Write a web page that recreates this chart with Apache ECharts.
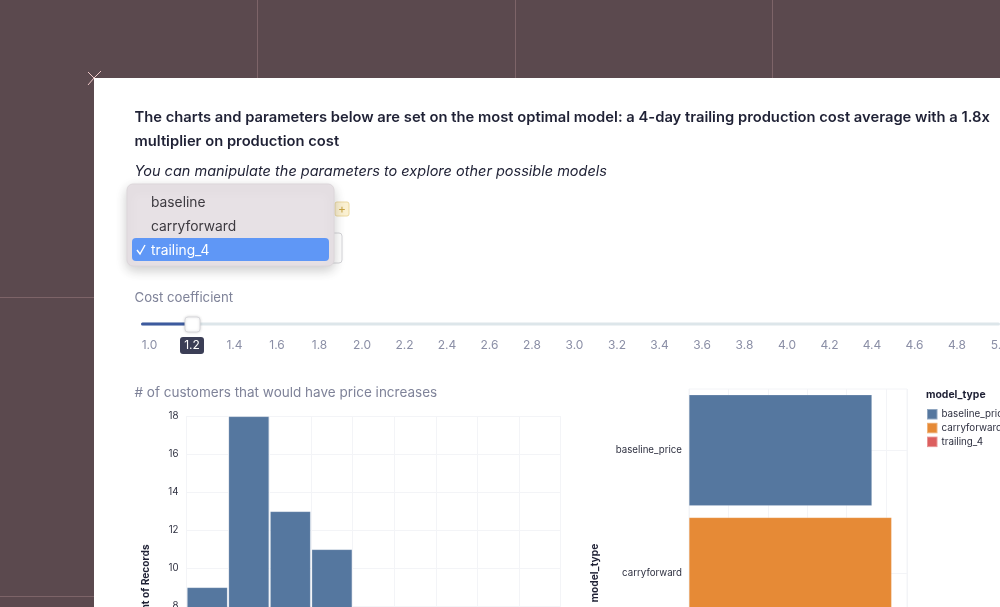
<!DOCTYPE html>
<html><head><meta charset="utf-8">
<style>html,body{margin:0;padding:0;background:#5b494e;overflow:hidden}#c{width:1000px;height:607px;filter:blur(0.55px)}</style>
<script src="https://cdn.jsdelivr.net/npm/echarts@6/dist/echarts.min.js"></script>
</head><body><div id="c"></div>
<script>
const headingLines = ['The charts and parameters below are set on the most optimal model: a 4-day trailing production cost average with a 1.8x','multiplier on production cost'];
const subheading = 'You can manipulate the parameters to explore other possible models';
const dropdownItems = ['baseline','carryforward','trailing_4'];
const sliderTitle = 'Cost coefficient';
const sliderTicks = ['1.0','1.2','1.4','1.6','1.8','2.0','2.2','2.4','2.6','2.8','3.0','3.2','3.4','3.6','3.8','4.0','4.2','4.4','4.6','4.8','5.0'];
const histTitle = '# of customers that would have price increases';
const histBins = ['b1','b2','b3','b4','b5','b6','b7','b8','b9'];
const histCounts = [9,18,13,11,null,null,null,null,null];
const modelTypes = ['baseline_price','carryforward','trailing_4'];
const baselineValues = [4.64,null,null];
const carryforwardValues = [null,5.14,null];
const trailingValues = [null,null,null];

const font = 'Inter, "Noto Sans", sans-serif';
const ink = '#1f2135', muted = '#7f8399', grid = '#f3f4f7';
const g = [];
const line = (x1,y1,x2,y2,stroke,w=1,z=-3)=>g.push({type:'line',z,silent:true,shape:{x1,y1,x2,y2},style:{stroke,lineWidth:w}});
const rect = (x,y,width,height,r,style,z=1)=>g.push({type:'rect',z,silent:true,shape:{x,y,width,height,r},style});
const text = (x,y,t,size,fill,opt={},z=5)=>g.push({type:'text',z,silent:true,x,y,style:Object.assign({text:t,font:`${opt.w||'normal'} ${size}px ${font}`,fill,textVerticalAlign:'middle',textAlign:opt.a||'left'},opt.font?{font:opt.font}:{})});

// background frame lines
[257,515,772].forEach(x=>line(x+.5,0,x+.5,78,'#7d6468',1,-4));
[297,596].forEach(y=>line(0,y+.5,94,y+.5,'#7d6468',1,-4));
rect(94,78,906,529,0,{fill:'#ffffff'},-3);
line(88,72,94,78,'#efc8c8',1,-2);line(94,78,101,71,'#efc8c8',1,-2);line(94,78,88,85,'#efc8c8',1,-2);

// heading
headingLines.forEach((t,i)=>text(134.5,118+i*24,t,14.75,ink,{w:'600'}));
text(134.5,172,subheading,14.5,ink,{font:`italic 14.5px ${font}`});

// select behind the dropdown, comment icon, dropdown
rect(300,233,42,30,3,{fill:'#fff',stroke:'#d4d4d8',lineWidth:1},3);
rect(335,202,14,14,2,{fill:'#fbf1d2',stroke:'#ecd9a0',lineWidth:1},3);
text(342,209,'+',12,'#c9a544',{a:'center'},4);
rect(127,184,207,82,6,{fill:'#e7e1e5',stroke:'#dcd6da',lineWidth:1,shadowColor:'rgba(0,0,0,.2)',shadowBlur:12,shadowOffsetY:4},4);
rect(132,238,197,23,4,{fill:'#5f97f6'},5);
dropdownItems.forEach((t,i)=>text(151,203+i*23.7,t,13.8,i===2?'#fff':'#3d3a40',{},6));
g.push({type:'polyline',z:6,silent:true,shape:{points:[[137,250],[140,254],[145,245]]},style:{stroke:'#fff',lineWidth:1.4,fill:null}});

// slider
text(134.5,298.5,sliderTitle,13.2,muted);
rect(141,322.5,859,3,1.5,{fill:'#dde6ea'},3);
rect(141,322.5,46,3,1.5,{fill:'#3d5a9e'},3);
rect(185,317,15,15,3,{fill:'#fff',stroke:'#d8d8dc',lineWidth:1,shadowColor:'rgba(0,0,0,.15)',shadowBlur:3},4);
rect(180,337,24,17,3,{fill:'#3b3e56'},3);
sliderTicks.forEach((t,i)=>text(149.5+i*42.5,345.5,t,12,i===1?'#fff':'#8b8fa6',{a:'center'}));

// titles
text(134.5,393,histTitle,13.5,muted);
text(926,394.5,'model_type',10.4,ink,{w:'bold'});

const axisText = {color:'#2e3040',fontSize:9.7,fontFamily:font};
const nameText = {color:ink,fontSize:10.2,fontWeight:'bold',fontFamily:font};
const split = {show:true,lineStyle:{color:grid,width:1}};
const barSeries = (name,data,color)=>({name,type:'bar',xAxisIndex:1,yAxisIndex:1,stack:'m',data,barCategoryGap:'9.5%',itemStyle:{color,borderColor:'rgba(255,255,255,.35)',borderWidth:.5}});

const option = {
  animation:false,
  backgroundColor:'transparent',
  graphic:{elements:g},
  legend:{orient:'vertical',left:926,top:408,itemWidth:10.5,itemHeight:10.5,itemGap:1.3,icon:'rect',padding:0,
    data:modelTypes,textStyle:{color:'#2e3040',fontSize:9.8,fontFamily:font,padding:[0,0,0,-1]}},
  grid:[
    {left:186.5,top:416.5,width:374,height:342,outerBoundsMode:'none',show:true,borderColor:grid,borderWidth:1,backgroundColor:'transparent'},
    {left:689,top:389,width:218,height:368,outerBoundsMode:'none',show:true,borderColor:grid,borderWidth:1,backgroundColor:'transparent'}
  ],
  xAxis:[
    {type:'category',gridIndex:0,data:histBins,axisLabel:{show:false},axisTick:{show:false},axisLine:{show:false},splitLine:split},
    {type:'value',gridIndex:1,min:0,max:5.53,interval:1,axisLabel:{show:false},axisTick:{show:false},axisLine:{show:false},splitLine:split}
  ],
  yAxis:[
    {type:'value',gridIndex:0,min:0,max:18,interval:2,name:'Count of Records',nameLocation:'middle',nameGap:36,nameTextStyle:nameText,axisLabel:Object.assign({margin:8},axisText),axisTick:{show:false},axisLine:{show:false},splitLine:split},
    {type:'category',gridIndex:1,inverse:true,data:modelTypes,name:'model_type',nameLocation:'middle',nameGap:89,nameTextStyle:nameText,axisLabel:Object.assign({margin:7},axisText),axisTick:{show:false},axisLine:{show:false},splitLine:{show:true,alignWithLabel:true,lineStyle:{color:grid,width:1}}}
  ],
  series:[
    {name:'Count of Records',type:'bar',xAxisIndex:0,yAxisIndex:0,data:histCounts,barWidth:'97%',itemStyle:{color:'#55779f',borderColor:'rgba(255,255,255,.3)',borderWidth:.5}},
    barSeries(modelTypes[0],baselineValues,'#55779f'),
    barSeries(modelTypes[1],carryforwardValues,'#e68a36'),
    barSeries(modelTypes[2],trailingValues,'#dc5f5f')
  ]
};
echarts.init(document.getElementById('c')).setOption(option);
</script></body></html>
